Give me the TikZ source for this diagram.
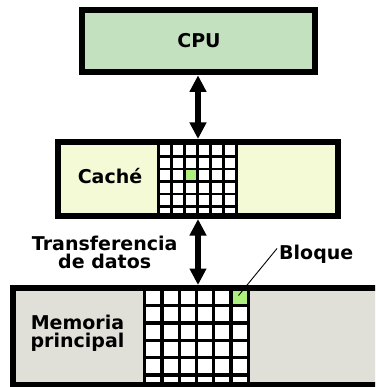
\documentclass[tikz,border=0pt]{standalone}
\usepackage{fontspec}
\setmainfont{DejaVu Sans}
\usetikzlibrary{arrows.meta,calc}
\definecolor{cpufill}{HTML}{C4E1BF}
\definecolor{cachefill}{HTML}{F4F9D6}
\definecolor{memfill}{HTML}{E0E0D9}
\definecolor{blockgreen}{HTML}{AEF07D}
\begin{document}
\begin{tikzpicture}[x=1pt,y=-1pt,
  box/.style={draw=black,line width=6pt,inner sep=0pt},
  lbl/.style={font=\fontsize{19}{18}\selectfont\bfseries,inner sep=0pt},
  arr/.style={line width=5.5pt,{Triangle[width=16pt,length=16.5pt]}-{Triangle[width=16pt,length=16.5pt]}},
  smallgrid/.style={line width=2.6pt,line cap=rect},
  biggrid/.style={line width=3.3pt,line cap=rect},
  pointer/.style={line width=0.9pt}]
\useasboundingbox (0,0) rectangle (375,387);
\clip (0,0) rectangle (375,387);
% boxes
\node[box,fill=cpufill,minimum width=233pt,minimum height=62.3pt] (cpu) at (198,41.2) {};
\node[lbl,anchor=base] (cputxt) at (199,47.5) {CPU};
\node[box,fill=cachefill,minimum width=280pt,minimum height=74pt] (cache) at (198,179) {};
\node[lbl,anchor=base] (cachetxt) at (110,183.5) {Caché};
\node[box,fill=memfill,minimum width=407pt,minimum height=96.5pt] (mem) at (216.5,336.25) {};
\node[lbl,align=center] (memtxt) at (77.5,333.5) {Memoria\\principal};
\node[lbl,align=center] (transf) at (104.7,252.3) {Transferencia\\de datos};
\node[lbl,anchor=base west] (bloque) at (279,259.5) {Bloque};
% cache grid
\fill[white] (158.7,145) rectangle (236.3,213);
\fill[blockgreen] (184.56,168.9) rectangle (197.49,181.45);
\foreach \i in {0,...,6} \draw[smallgrid] (158.7+\i*12.93,145) -- (158.7+\i*12.93,213);
\foreach \j in {0,...,5} \draw[smallgrid] (158.7,143.8+\j*12.55) -- (236.3,143.8+\j*12.55);
% memory grid
\fill[white] (144.7,291) rectangle (248.3,381.5);
\fill[blockgreen] (231.6,291) rectangle (248.3,305.8);
\foreach \i in {0,...,6} \draw[biggrid] (144.7+\i*17.27,291) -- (144.7+\i*17.27,381.5);
\foreach \j in {0,...,5} \draw[biggrid] (144.7,288.5+\j*17.3) -- (248.3,288.5+\j*17.3);
% arrows
\draw[arr] (cpu.south) -- (cache.north);
\draw[arr] (cache.south) -- (cache.south |- mem.north);
% pointer
\coordinate (bq) at (238.5,295.5);
\draw[pointer] (bq) -- ([shift={(-2,-11)}]bloque.base west);
\end{tikzpicture}
\end{document}
